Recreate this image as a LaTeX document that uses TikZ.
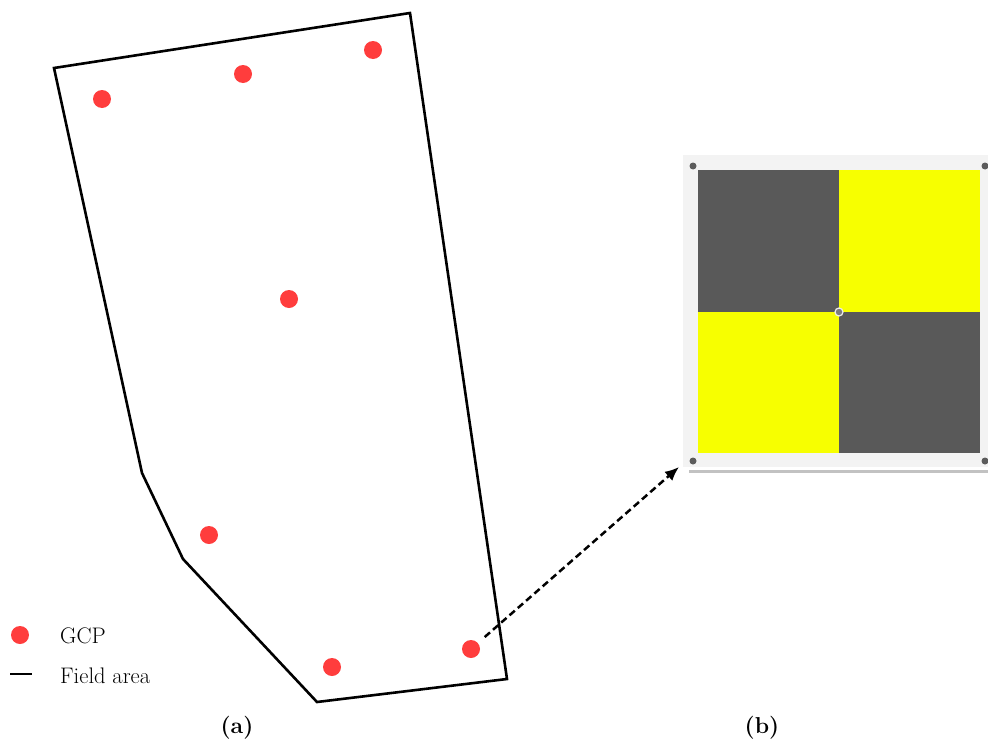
\documentclass[tikz,border=0pt]{standalone}
\usetikzlibrary{arrows.meta}
\definecolor{gcpred}{HTML}{FF3D3D}
\definecolor{panelbg}{HTML}{F3F3F3}
\definecolor{darksq}{HTML}{595959}
\definecolor{yellowsq}{HTML}{F7FF00}
\definecolor{shadowgray}{HTML}{C2C2C2}
\definecolor{dotgray}{HTML}{5C5C5C}
\begin{document}
\begin{tikzpicture}[x=1pt,y=-1pt,
  gcp/.style={circle,fill=gcpred,inner sep=0pt,minimum size=18pt},
  cornerdot/.style={circle,fill=dotgray,inner sep=0pt,minimum size=7pt},
  field/.style={line width=2.6pt,line join=miter},
  lbl/.style={font=\fontsize{22.5}{27}\selectfont,inner sep=0pt},
  sublbl/.style={font=\fontsize{23}{27}\selectfont\bfseries,inner sep=0pt},
  link/.style={line width=2.5pt,dash pattern=on 7pt off 4pt,-{Latex[length=14pt,width=12pt]}}
]
\useasboundingbox (0,0) rectangle (988,739);
% field polygon
\coordinate (p1) at (54,68);
\coordinate (p2) at (410,13);
\coordinate (p3) at (507,679);
\coordinate (p4) at (317,702);
\coordinate (p5) at (183,559);
\coordinate (p6) at (142,473);
\draw[field] (p1) -- (p2) -- (p3) -- (p4) -- (p5) -- (p6) -- cycle;
% GCPs
\node[gcp] (g1) at (102,99) {};
\node[gcp] (g2) at (243,74) {};
\node[gcp] (g3) at (373,50) {};
\node[gcp] (g4) at (289,299) {};
\node[gcp] (g5) at (209,535) {};
\node[gcp] (g6) at (332,667) {};
\node[gcp] (g7) at (471,649) {};
% target panel
\fill[panelbg] (683,155) rectangle (988,467);
\draw[shadowgray,line width=3pt] (689,471) -- (988,471);
\fill[darksq] (698,170) rectangle (839,312);
\fill[yellowsq] (839,170) rectangle (980,312);
\fill[yellowsq] (698,312) rectangle (839,453);
\fill[darksq] (839,312) rectangle (980,453);
\node[cornerdot] (c1) at (693,166) {};
\node[cornerdot] (c2) at (985,166) {};
\node[cornerdot] (c3) at (693,461) {};
\node[cornerdot] (c4) at (985,461) {};
\node[circle,fill=dotgray!80,draw=white!85!gray,line width=1.2pt,inner sep=0pt,minimum size=8pt] (ctr) at (839,312) {};
% arrow
\coordinate (tipend) at (679,467);
\draw[link,shorten <=9pt] (g7) -- (tipend);
% legend
\node[gcp] (lg) at (20,635) {};
\node[lbl,anchor=base west] (lgt) at (60,643) {GCP};
\coordinate (la) at (10,674);
\coordinate (lb) at (32,674);
\draw[line width=2.5pt] (la) -- (lb);
\node[lbl,anchor=base west] (lft) at (60,683) {Field area};
% sub labels
\node[sublbl] (sa) at (237,728) {(a)};
\node[sublbl] (sb) at (762,728) {(b)};
\end{tikzpicture}
\end{document}
